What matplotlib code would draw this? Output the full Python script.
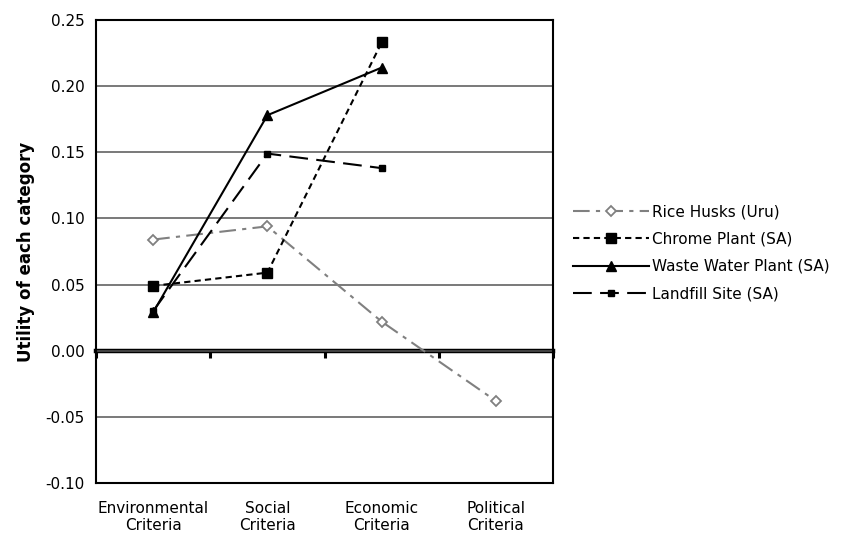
import matplotlib
matplotlib.use("Agg")
import matplotlib.pyplot as plt

categories = ["Environmental\nCriteria", "Social\nCriteria", "Economic\nCriteria", "Political\nCriteria"]

rice_husks = [0.084, 0.094, 0.022, -0.038]
chrome_plant = [0.049, 0.059, 0.233]
waste_water = [0.029, 0.178, 0.214]
landfill = [0.030, 0.149, 0.138]

y_ticks = [-0.10, -0.05, 0.00, 0.05, 0.10, 0.15, 0.20, 0.25]

fig = plt.figure(figsize=(8.46, 5.37), dpi=100)
ax = fig.add_axes([0.1135, 0.1006, 0.5402, 0.8622])

x4 = list(range(len(categories)))
x3 = x4[:3]

ax.plot(x4, rice_husks, color="#808080", lw=1.5, dashes=(8, 3, 2, 3),
        marker="D", ms=5, mfc="white", mec="#808080", mew=1.3,
        label="Rice Husks (Uru)")
ax.plot(x3, chrome_plant, color="black", lw=1.5, dashes=(3, 2),
        marker="s", ms=7, label="Chrome Plant (SA)")
ax.plot(x3, waste_water, color="black", lw=1.5, linestyle="-",
        marker="^", ms=7, label="Waste Water Plant (SA)")
ax.plot(x3, landfill, color="black", lw=1.5, dashes=(9, 4),
        marker="s", ms=4.5, label="Landfill Site (SA)")

ax.set_xlim(-0.5, 3.5)
ax.set_ylim(-0.10, 0.25)
ax.set_yticks(y_ticks)
ax.set_yticklabels([f"{v:.2f}" for v in y_ticks], fontsize=11)
ax.yaxis.grid(True, color="#555555", lw=1.1)
ax.set_axisbelow(True)
ax.tick_params(axis="y", length=0, pad=8)

ax.set_xticks(x4)
ax.set_xticklabels(categories, fontsize=11)
ax.tick_params(axis="x", length=0, pad=13)

for s in ax.spines.values():
    s.set_linewidth(1.5)
    s.set_color("black")

# zero line with category separators
zero_frac = (0 - (-0.10)) / (0.25 - (-0.10))
sec = ax.secondary_xaxis(zero_frac)
sec.set_xticks([-0.5, 0.5, 1.5, 2.5, 3.5])
sec.set_xticklabels([])
sec.tick_params(direction="out", length=5, width=2.2)
sec.spines["bottom"].set_linewidth(3.2)

ax.set_ylabel("Utility of each category", fontsize=12, fontweight="bold", labelpad=8)

ax.legend(loc="center left", bbox_to_anchor=(1.03, 0.497), frameon=False,
          fontsize=11, handlelength=5.0, labelspacing=0.8, handletextpad=0.2,
          borderaxespad=0)

fig.savefig("out.png", dpi=100)
